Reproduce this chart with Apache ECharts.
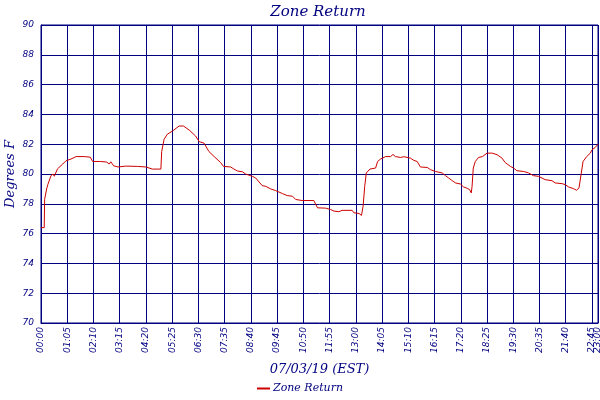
<!DOCTYPE html>
<html>
<head>
<meta charset="utf-8">
<script src="https://cdn.jsdelivr.net/npm/echarts@6/dist/echarts.min.js"></script>
<style>html,body{margin:0;padding:0;background:#fff}#c{width:600px;height:400px}</style>
</head>
<body>
<div id="c"></div>
<script>
const chartTitle = 'Zone Return';
const xAxisTitle = '07/03/19 (EST)';
const yAxisTitle = 'Degrees F';
const seriesName = 'Zone Return';
// minutes after midnight
const times = [0,8,9,12,14,17,25,30,33,41,54,62,74,87,107,122,128,148,163,169,173,180,191,210,239,260,276,297,299,305,313,326,342,353,367,383,392,404,416,429,445,452,470,478,487,499,507,524,532,548,557,569,581,598,610,623,631,647,676,685,705,717,726,738,742,746,771,775,788,794,798,802,806,815,829,834,841,854,866,872,878,891,899,915,924,932,940,957,965,977,994,1002,1010,1019,1027,1039,1047,1056,1062,1066,1068,1071,1076,1084,1094,1105,1118,1130,1142,1150,1163,1171,1179,1196,1208,1220,1233,1237,1249,1266,1274,1291,1299,1307,1319,1327,1333,1338,1343,1352,1361,1365,1373,1380];
const temps = [76.4,76.4,78.3,78.4,79.0,79.3,79.9,80.0,79.85,80.35,80.67,80.89,81.0,81.17,81.17,81.13,80.84,80.84,80.8,80.67,80.82,80.55,80.47,80.53,80.51,80.47,80.33,80.33,81.5,82.33,82.67,82.89,83.22,83.22,82.95,82.55,82.17,82.07,81.51,81.17,80.77,80.51,80.47,80.33,80.2,80.15,80.0,79.84,79.73,79.22,79.17,79.0,78.89,78.69,78.55,78.51,78.29,78.22,78.22,77.73,77.71,77.62,77.51,77.47,77.4,77.56,77.56,77.4,77.35,77.22,77.84,79.17,80.07,80.33,80.4,80.84,81.0,81.17,81.17,81.31,81.17,81.11,81.16,81.07,80.91,80.84,80.47,80.44,80.29,80.17,80.07,79.89,79.73,79.55,79.4,79.33,79.13,79.04,78.95,78.73,79.17,80.4,80.84,81.11,81.17,81.4,81.4,81.29,81.07,80.77,80.51,80.4,80.22,80.17,80.07,79.89,79.84,79.73,79.62,79.55,79.4,79.35,79.29,79.13,79.02,78.91,79.07,79.96,80.84,81.17,81.4,81.62,81.78,82.0];
const xMin = 0, xMax = 1380, xStep = 65;
const yMin = 70, yMax = 90, yStep = 2;
const xTickValues = [0,65,130,195,260,325,390,455,520,585,650,715,780,845,910,975,1040,1105,1170,1235,1300,1365];
const xEndTick = [1380];

const navy = '#000080';
const data = times.map((t, i) => [t, temps[i]]);
function fmt(m) {
  const h = Math.floor(m / 60), mm = Math.round(m % 60);
  return String(h).padStart(2, '0') + ':' + String(mm).padStart(2, '0');
}
const labelStyle = {rotate: 90, color: navy, fontFamily: 'DejaVu Sans', fontStyle: 'italic', fontSize: 9, margin: 4, hideOverlap: false, formatter: v => fmt(v)};
const chart = echarts.init(document.getElementById('c'), null, {renderer: 'canvas'});
chart.setOption({
  animation: false,
  backgroundColor: '#fff',
  title: {
    text: chartTitle, left: 313, textAlign: 'center', top: 0,
    textStyle: {color: navy, fontFamily: 'DejaVu Serif', fontStyle: 'italic', fontWeight: 'normal', fontSize: 15}
  },
  legend: {
    bottom: 1, left: 'center',
    data: [{name: seriesName, icon: 'rect'}],
    itemWidth: 13, itemHeight: 2, itemGap: 4,
    textStyle: {color: navy, fontFamily: 'DejaVu Serif', fontStyle: 'italic', fontSize: 11, padding: [0,0,0,-2]}
  },
  grid: {left: 41, right: 2, top: 25, bottom: 77, show: true, borderColor: navy, borderWidth: 1, outerBoundsMode: 'none', containLabel: false},
  xAxis: [{
    type: 'value', min: xMin, max: xMax, interval: xStep,
    name: xAxisTitle, nameLocation: 'middle', nameGap: 40,
    nameTextStyle: {color: navy, fontFamily: 'DejaVu Serif', fontStyle: 'italic', fontSize: 13},
    axisLine: {show: true, lineStyle: {color: navy, width: 1}},
    axisTick: {show: false},
    splitLine: {show: true, lineStyle: {color: navy, width: 1}},
    axisLabel: Object.assign({customValues: xTickValues}, labelStyle)
  }, {
    type: 'value', min: xMin, max: xMax, position: 'bottom', gridIndex: 0,
    axisLine: {show: false}, axisTick: {show: false}, splitLine: {show: false},
    axisLabel: Object.assign({customValues: xEndTick}, labelStyle)
  }],
  yAxis: {
    type: 'value', min: yMin, max: yMax, interval: yStep, offset: 2,
    name: yAxisTitle, nameLocation: 'middle', nameGap: 22, nameMoveOverlap: false,
    nameTextStyle: {color: navy, fontFamily: 'DejaVu Serif', fontStyle: 'italic', fontSize: 13},
    axisLine: {show: true, lineStyle: {color: navy, width: 1}},
    axisTick: {show: false},
    splitLine: {show: true, lineStyle: {color: navy, width: 1}},
    axisLabel: {color: navy, fontFamily: 'DejaVu Sans', fontStyle: 'italic', fontSize: 9, margin: 5, showMaxLabel: true, showMinLabel: true}
  },
  series: [{
    name: seriesName, type: 'line', data: data, showSymbol: false, symbol: 'none',
    lineStyle: {color: '#cc0000', width: 1}, itemStyle: {color: '#cc0000'}
  }]
});
</script>
</body>
</html>
